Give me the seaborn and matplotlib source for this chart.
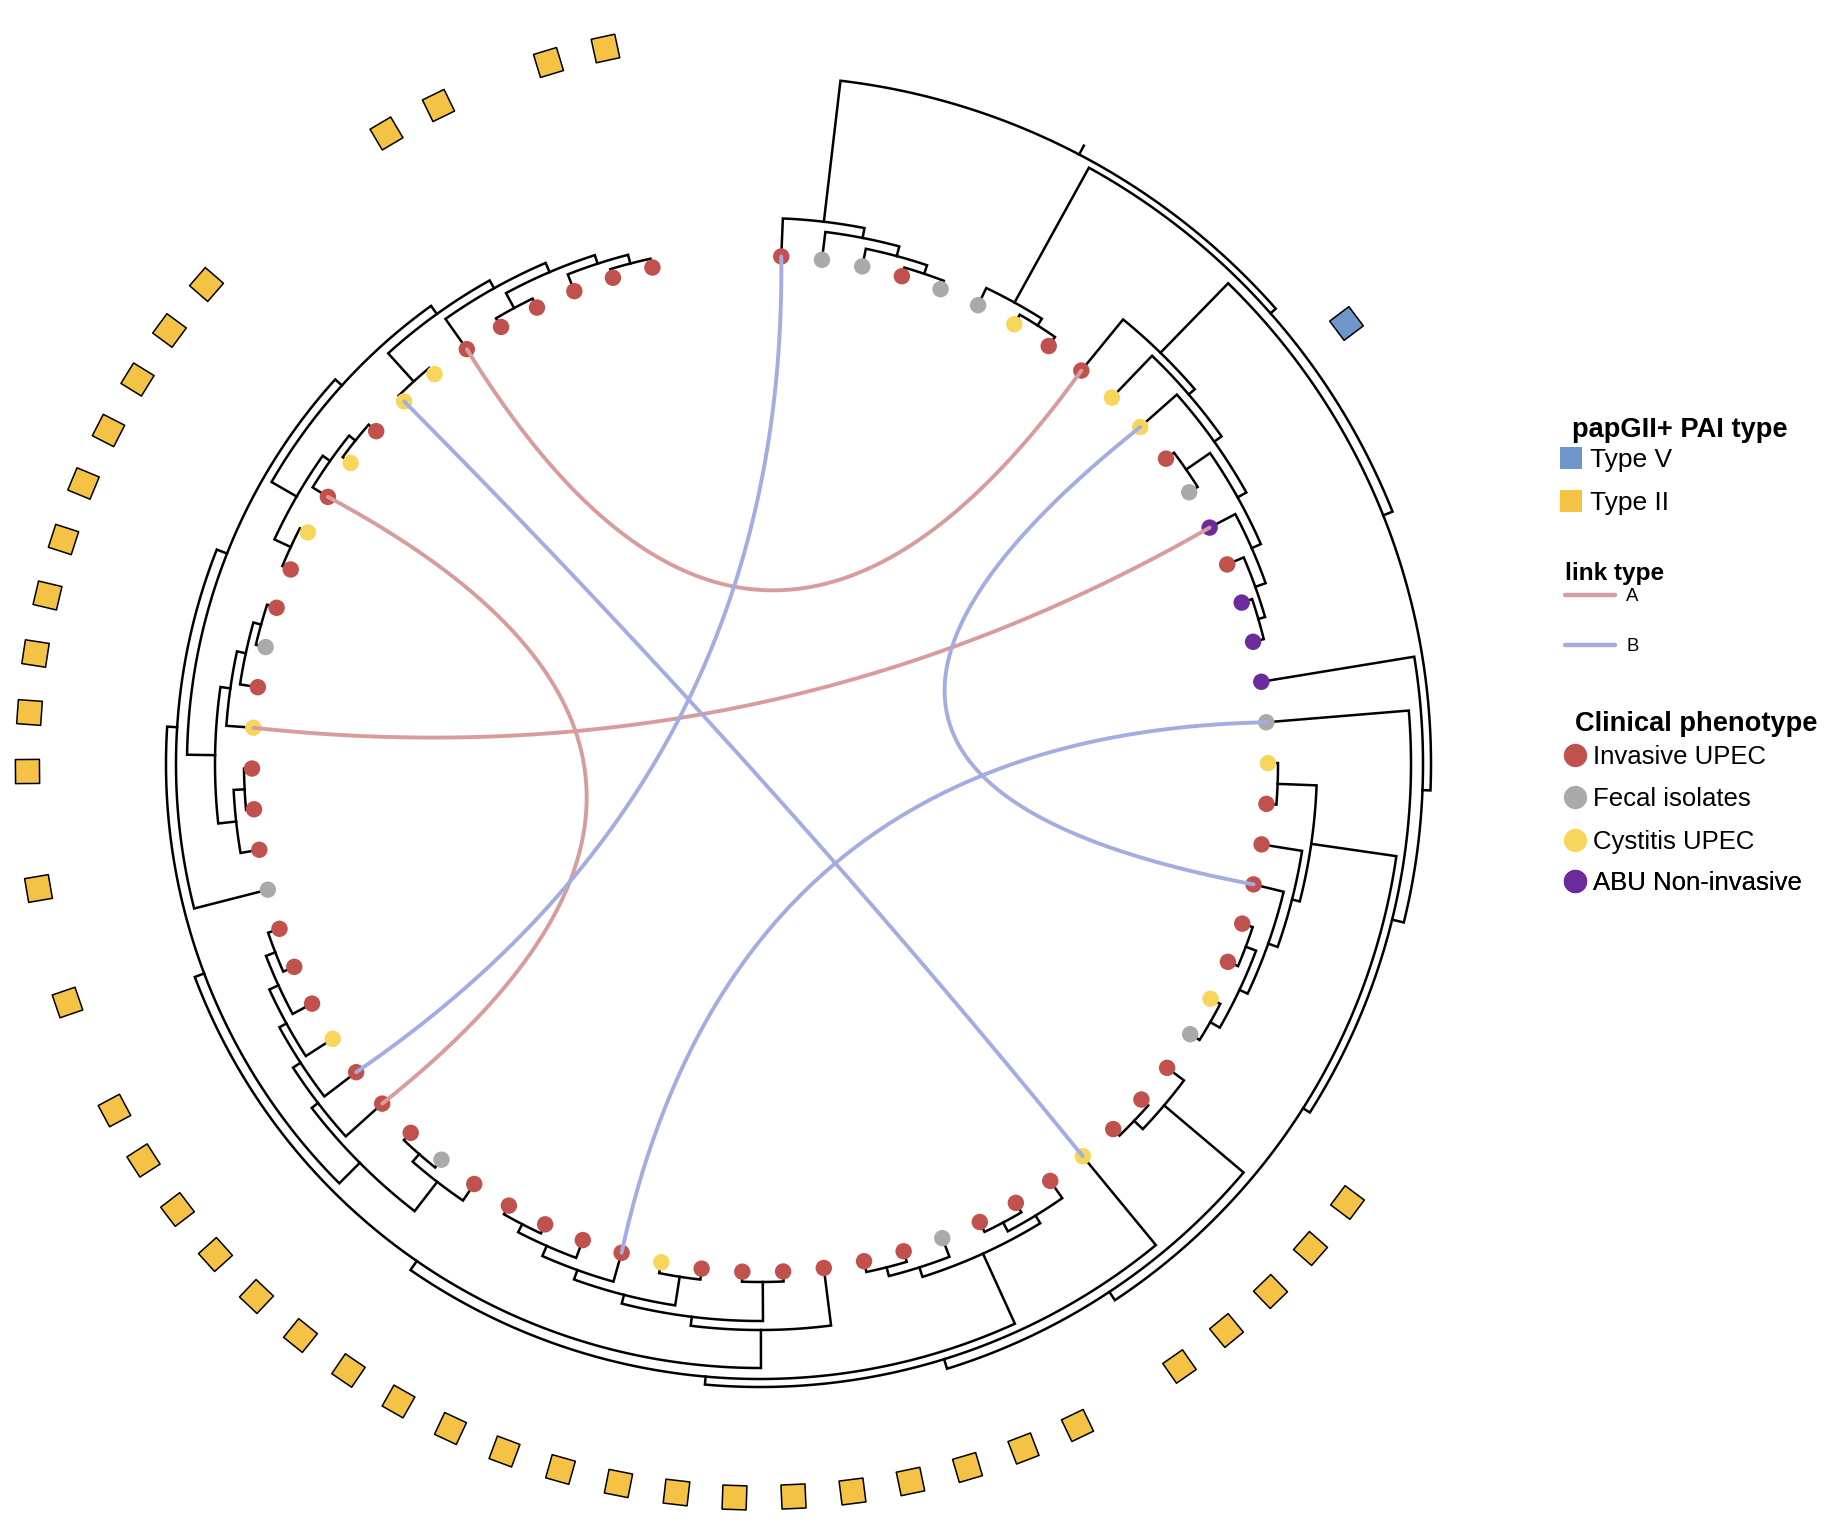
import numpy as np
import pandas as pd
import matplotlib
matplotlib.use("Agg")
import matplotlib.pyplot as plt
from matplotlib.collections import LineCollection
from matplotlib.markers import MarkerStyle
from matplotlib.transforms import Affine2D
from matplotlib.lines import Line2D
import seaborn as sns

# ------------------------------------------------------------------ data
# tree topology (tips t0..t75 in drawing order) with internal branch lengths
A_CLADE = "(t0,(t1,(t2,(t3,t4):9):10):10):142"
C1_CLADE = "(t5,(t6,t7):8):154"
D1_CLADE = "(t8,(t9,(t10,((t11,t12):29,(t13,(t14,(t15,t16):7):11):10):10):9):8):97"
M_CLADE = "((t19,t20):39,(t21,(t22,((t23,t24):11,(t25,t26):11):9):10):8):86"
S_CLADE = "(t27,(t28,t29):12):104"
X_CLADE = "((t31,(t32,t33):10):9,(t34,(t35,t36):9):10):77"
Y_CLADE = "(t37,((t38,t39):39,((t40,t41):29,(t42,(t43,(t44,t45):9):11):10):9):9):38"
AL_CLADE = "((t46,(t47,t48):10):37,(t49,(t50,(t51,(t52,(t53,t54):10):10):8):9):8):29"
BF_CLADE = "((t56,(t57,t58):11):18,(t59,(t60,(t61,t62):8):9):10):28"
BN_CLADE = ("(((t63,t64):18,(t65,(t66,t67):8):9):29,"
            "((t68,t69):38,(t70,((t71,t72):17,(t73,(t74,t75):9):9):10):9):10):9")

BH_CLADE = f"(t55,({BF_CLADE},{BN_CLADE}):11):10"
AI_CLADE = f"({AL_CLADE},{BH_CLADE}):10"
Z_CLADE = f"({Y_CLADE},{AI_CLADE}):11"
V_CLADE = f"({X_CLADE},{Z_CLADE}):8"
U_CLADE = f"(t30,{V_CLADE}):10"
T_CLADE = f"({S_CLADE},{U_CLADE}):10"
K_CLADE = f"({M_CLADE},{T_CLADE}):8"
I_CLADE = f"(t17,(t18,{K_CLADE}):12):8"
C2_CLADE = f"({D1_CLADE},{I_CLADE}):10"
B_CLADE = f"({C1_CLADE},{C2_CLADE}):7"
TREE_NEWICK = f"({A_CLADE},{B_CLADE});"

# clinical phenotype of each tip (I invasive, F fecal, C cystitis, A ABU)
PHENO_CODES = ("IFFIFFCIIC" "CIFAIAAAFC" "IIIIICFIII" "CIIIFIIIII"
               "ICIIIIIFII" "ICIIIFIIIC" "IFIICICICC" "IIIIII")
PHENO_NAMES = {"I": "Invasive UPEC", "F": "Fecal isolates",
               "C": "Cystitis UPEC", "A": "ABU Non-invasive"}

# papGII+ PAI type per tip
TYPE_V_TIPS = [11]
TYPE_II_TIPS = ([27, 28, 29, 30, 31] + list(range(33, 53)) + [54, 56]
                + list(range(58, 68)) + [71, 72, 74, 75])

# links between tips
LINKS = [(70, 8, "A"), (65, 49, "A"), (59, 13, "A"),
         (0, 50, "B"), (68, 30, "B"), (10, 22, "B"), (18, 42, "B")]

# ------------------------------------------------------------------ style / layout
W, H = 1830, 1528
CX, CY = 760.0, 764.0
R_ROOT, R_TIP, R_PAI, ROOT_EDGE = 688.0, 508.0, 733.0, 10.0
THETA0, STEP = 2.4, 4.605
LINK_PULL = 1.14

PHENO_COLORS = {"Invasive UPEC": "#C0514D", "Fecal isolates": "#AAAAAA",
                "Cystitis UPEC": "#F8D65C", "ABU Non-invasive": "#6B2B9C"}
PAI_COLORS = {"Type V": "#6E96C8", "Type II": "#F4C244"}
LINK_COLORS = {"A": "#D99C9C", "B": "#A4ADE1"}

sns.set_theme(style="white")
plt.rcParams["font.family"] = ["Liberation Sans", "DejaVu Sans"]
plt.rcParams["text.color"] = "black"


def parse_newick(s):
    pos = 0

    def node():
        nonlocal pos
        n = {"children": [], "name": None, "length": 0.0}
        if s[pos] == "(":
            pos += 1
            while True:
                n["children"].append(node())
                if s[pos] == ",":
                    pos += 1
                    continue
                pos += 1  # ')'
                break
        st = pos
        while pos < len(s) and s[pos] not in ",():;":
            pos += 1
        if pos > st:
            n["name"] = s[st:pos]
        if pos < len(s) and s[pos] == ":":
            pos += 1
            st = pos
            while pos < len(s) and s[pos] not in ",();":
                pos += 1
            n["length"] = float(s[st:pos])
        return n

    return node()


def polar(r, th):
    t = np.deg2rad(th)
    return CX + r * np.sin(t), CY - r * np.cos(t)


tree = parse_newick(TREE_NEWICK)


def layout(n, depth):
    n["depth"] = depth + n["length"]
    if not n["children"]:
        idx = int(n["name"][1:])
        n["theta"] = THETA0 + STEP * idx
        n["r"] = R_TIP
        return
    for c in n["children"]:
        layout(c, n["depth"])
    n["theta"] = float(np.mean([c["theta"] for c in n["children"]]))
    n["r"] = R_ROOT - n["depth"]


layout(tree, 0.0)

segments = []


def collect(n):
    if not n["children"]:
        return
    ch = sorted(n["children"], key=lambda c: c["theta"])
    th = np.linspace(ch[0]["theta"], ch[-1]["theta"],
                     max(4, int(abs(ch[-1]["theta"] - ch[0]["theta"]) * 3)))
    pts = [polar(ch[0]["r"], ch[0]["theta"])]
    ax_, ay_ = polar(n["r"], th)
    pts += list(zip(ax_, ay_))
    pts.append(polar(ch[-1]["r"], ch[-1]["theta"]))
    segments.append(np.array(pts))
    for c in ch[1:-1]:
        segments.append(np.array([polar(n["r"], c["theta"]), polar(c["r"], c["theta"])]))
    for c in ch:
        collect(c)


collect(tree)
segments.append(np.array([polar(R_ROOT, tree["theta"]),
                          polar(R_ROOT + ROOT_EDGE, tree["theta"])]))

# ------------------------------------------------------------------ figure
fig = plt.figure(figsize=(W / 100, H / 100), dpi=100)
ax = fig.add_axes([0, 0, 1, 1])

ax.add_collection(LineCollection(segments, colors="black", linewidths=1.8,
                                 capstyle="projecting", joinstyle="miter", zorder=2))

# tip points
tip_theta = THETA0 + STEP * np.arange(len(PHENO_CODES))
tx, ty = polar(R_TIP, tip_theta)
tips_df = pd.DataFrame({"x": tx, "y": ty,
                        "phenotype": [PHENO_NAMES[c] for c in PHENO_CODES]})
sns.scatterplot(data=tips_df, x="x", y="y", hue="phenotype",
                hue_order=list(PHENO_COLORS), palette=PHENO_COLORS,
                s=140, linewidth=0, legend=False, ax=ax, zorder=4)

# PAI squares (rotated with the circle)
pai_rows = [(i, "Type V") for i in TYPE_V_TIPS] + [(i, "Type II") for i in TYPE_II_TIPS]
for i, ptype in pai_rows:
    th = THETA0 + STEP * i
    px, py = polar(R_PAI, th)
    mk = MarkerStyle("s", transform=Affine2D().rotate_deg(-th))
    sns.scatterplot(x=[px], y=[py], marker=mk, color=PAI_COLORS[ptype],
                    edgecolor="black", linewidth=1.1, s=300, legend=False,
                    ax=ax, zorder=3)

# links (quadratic curves pulled toward / past the centre)
rows = []
tt = np.linspace(0, 1, 120)
for k, (a, b, ltype) in enumerate(LINKS):
    x0, y0 = polar(R_TIP, THETA0 + STEP * a)
    x1, y1 = polar(R_TIP, THETA0 + STEP * b)
    mx, my = (x0 + x1) / 2, (y0 + y1) / 2
    qx, qy = mx + LINK_PULL * (CX - mx), my + LINK_PULL * (CY - my)
    bx = (1 - tt) ** 2 * x0 + 2 * (1 - tt) * tt * qx + tt ** 2 * x1
    by = (1 - tt) ** 2 * y0 + 2 * (1 - tt) * tt * qy + tt ** 2 * y1
    for xv, yv in zip(bx, by):
        rows.append({"x": xv, "y": yv, "link": k, "type": ltype})
links_df = pd.DataFrame(rows)
sns.lineplot(data=links_df, x="x", y="y", hue="type", units="link",
             estimator=None, sort=False, palette=LINK_COLORS, linewidth=2.8,
             legend=False, ax=ax, zorder=5)

ax.set_xlim(0, W)
ax.set_ylim(H, 0)
ax.axis("off")


# ------------------------------------------------------------------ legends
def add_entry(handle, label, x_left, y_center, fs, hl, htp):
    leg = ax.legend(handles=[handle], labels=[label], loc="center left",
                    bbox_to_anchor=(x_left / W, 1 - y_center / H),
                    bbox_transform=fig.transFigure, frameon=False, borderpad=0,
                    borderaxespad=0, handlelength=hl, handletextpad=htp,
                    fontsize=fs, handleheight=0.7, labelcolor="black")
    ax.add_artist(leg)


fig.text(1572 / W, 1 - 437 / H, "papGII+ PAI type", fontsize=19.6,
         fontweight="bold", va="baseline", ha="left", color="black")
for (name, col), yc in zip(PAI_COLORS.items(), [460.5, 502.8]):
    h = Line2D([], [], marker="s", linestyle="none", markersize=16.3,
               markerfacecolor=col, markeredgewidth=0)
    add_entry(h, name, 1560, yc, 19, 0.86, 0.28)

fig.text(1565 / W, 1 - 580 / H, "link type", fontsize=17.6,
         fontweight="bold", va="baseline", ha="left", color="black")
for (name, col), yc in zip(LINK_COLORS.items(), [596.7, 646.7]):
    h = Line2D([], [], color=col, linewidth=3.2)
    add_entry(h, name, 1565, yc, 13.4, 2.69, 0.59)

fig.text(1575 / W, 1 - 731 / H, "Clinical phenotype", fontsize=19.6,
         fontweight="bold", va="baseline", ha="left", color="black")
for (name, col), yc in zip(PHENO_COLORS.items(), [756.7, 799.3, 841.7, 883.3]):
    h = Line2D([], [], marker="o", linestyle="none", markersize=16.8,
               markerfacecolor=col, markeredgewidth=0)
    add_entry(h, name, 1563.3, yc, 18.5, 0.91, 0.25)

fig.savefig("out.png", dpi=100, facecolor="white")
